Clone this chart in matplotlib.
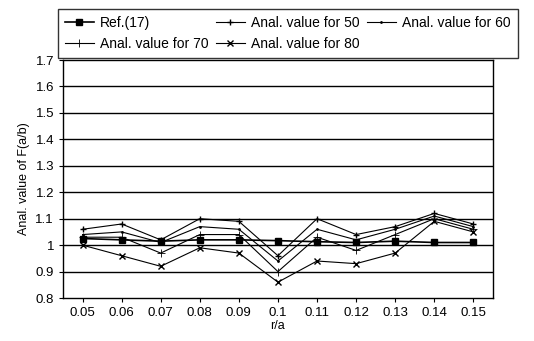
import matplotlib
matplotlib.use("Agg")
import matplotlib.pyplot as plt
import numpy as np

plt.rcParams['font.family'] = ['Liberation Sans', 'DejaVu Sans']

categories = ['0.05', '0.06', '0.07', '0.08', '0.09', '0.1', '0.11', '0.12', '0.13', '0.14', '0.15']
ref17 = [1.025, 1.02, 1.015, 1.02, 1.02, 1.017, 1.013, 1.01, 1.015, 1.01, 1.01]
val50 = [1.06, 1.08, 1.02, 1.10, 1.09, 0.96, 1.10, 1.04, 1.07, 1.12, 1.08]
val60 = [1.04, 1.05, 1.01, 1.07, 1.06, 0.94, 1.06, 1.02, 1.06, 1.11, 1.07]
val70 = [1.03, 1.03, 0.97, 1.04, 1.04, 0.90, 1.03, 0.98, 1.04, 1.10, 1.06]
val80 = [1.00, 0.96, 0.92, 0.99, 0.97, 0.86, 0.94, 0.93, 0.97, 1.09, 1.05]
yticks = [0.8, 0.9, 1, 1.1, 1.2, 1.3, 1.4, 1.5, 1.6, 1.7]
ytick_labels = ['0.8', '0.9', '1', '1.1', '1.2', '1.3', '1.4', '1.5', '1.6', '1.7']

fig = plt.figure(figsize=(5.34, 3.41), dpi=100)
ax = fig.add_axes([0.118, 0.126, 0.805, 0.698])

x = np.arange(len(categories))
lw = 0.8
h_ref, = ax.plot(x, ref17, color='black', lw=1.2, marker='s', ms=5, label='Ref.(17)')
h50, = ax.plot(x, val50, color='black', lw=lw, marker='+', ms=4, label='Anal. value for 50')
h60, = ax.plot(x, val60, color='black', lw=lw, marker='.', ms=2, label='Anal. value for 60')
h70, = ax.plot(x, val70, color='black', lw=lw, marker='+', ms=6, mew=0.6, label='Anal. value for 70')
h80, = ax.plot(x, val80, color='black', lw=lw, marker='x', ms=4, label='Anal. value for 80')

ax.set_xlim(-0.5, len(categories) - 0.5)
ax.set_ylim(0.8, 1.7)
ax.set_yticks(yticks)
ax.set_yticklabels(ytick_labels)
ax.set_xticks(x)
ax.set_xticklabels(categories)
for yv in yticks[1:-1]:
    ax.axhline(yv, color='black', lw=1.0, zorder=0)
ax.tick_params(axis='both', labelsize=9.5, length=3, width=0.8, direction='out', color='black')
for s in ax.spines.values():
    s.set_color('black')
    s.set_linewidth(1.0)
ax.set_xlabel('r/a', fontsize=9, labelpad=1)
ax.set_ylabel('Anal. value of F(a/b)', fontsize=9, labelpad=4)

handles = [h_ref, h70, h50, h80, h60]
leg = fig.legend(handles, [h.get_label() for h in handles],
                 loc='upper left', bbox_to_anchor=(0.095, 0.994), ncol=3,
                 fontsize=10, frameon=True, fancybox=False, edgecolor='black',
                 handlelength=2.1, handletextpad=0.45, columnspacing=0.5,
                 labelspacing=0.5, borderpad=0.5)
leg.get_frame().set_linewidth(1.0)

fig.savefig('out.png', dpi=100)
